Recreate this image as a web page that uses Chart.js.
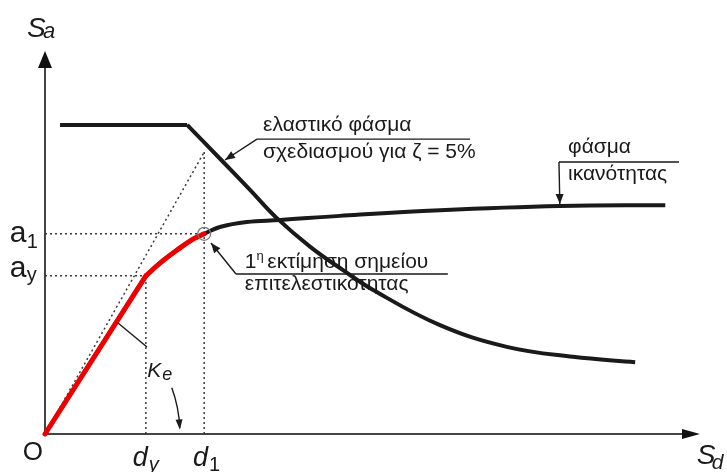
<!DOCTYPE html>
<html>
<head>
<meta charset="utf-8">
<script src="https://cdn.jsdelivr.net/npm/chart.js@4/dist/chart.umd.min.js"></script>
<style>
  html, body { margin: 0; padding: 0; background: #fff; }
  #wrap { width: 727px; height: 472px; }
</style>
</head>
<body>
<div id="wrap"><canvas id="c" width="727" height="472"></canvas></div>
<script>
// Spectral displacement Sd (x) and spectral acceleration Sa (y), schematic units 0..100

// Elastic design spectrum (ζ = 5%): constant-acceleration plateau, then descending branch
const elasticPlateauSd = [2.3, 21.7];
const elasticPlateauSa = [80.9, 80.9];
const elasticSd = [21.7, 27.2, 31.3, 35.4, 40.5, 45.5, 50.1, 60.3, 70.5, 80.6, 90.1];
const elasticSa = [80.9, 71.2, 63.9, 56.5, 49.0, 42.9, 37.7, 28.5, 22.8, 20.2, 18.8];

// Capacity spectrum: linear up to yield, then curved post-yield branch
const capacitySd = [0, 15.4, 17.6, 20.2, 22.6, 24.3, 26.7, 30.8, 35.9, 45.0, 60.3, 78.6, 94.7];
const capacitySa = [0, 41.4, 44.8, 48.2, 51.0, 52.4, 54.2, 55.5, 56.0, 57.1, 58.6, 59.7, 59.9];

// Characteristic points
const yieldSd = 15.4, yieldSa = 41.4;      // d_y, a_y
const trialSd = 24.3, trialSa = 52.4;      // d_1, a_1 (first performance-point estimate)
const initialStiffnessTopSa = 73.8;        // Sa of the initial-stiffness line at d_1

const pts = (xs, ys) => xs.map((x, i) => ({ x, y: ys[i] }));
const yieldIdx = capacitySd.indexOf(yieldSd);
const trialIdx = capacitySd.indexOf(trialSd);

const INK = '#1a1a1a';
const DOT = '#3a3a3a';
const FONT = '"Liberation Sans", Arial, sans-serif';

const dotted = (data) => ({
  data, showLine: true, borderColor: DOT, borderWidth: 1.5, borderDash: [2, 3],
  pointRadius: 0, tension: 0, clip: false, order: 5
});

const datasets = [
  // trial performance point marker
  { data: [{ x: trialSd, y: trialSa }], showLine: false, pointRadius: 6.5,
    pointBorderColor: '#777', pointBorderWidth: 1.2, pointBackgroundColor: 'rgba(0,0,0,0)',
    clip: false, order: -1 },
  // red: capacity curve up to the first estimate
  { data: pts(capacitySd.slice(0, yieldIdx + 1), capacitySa.slice(0, yieldIdx + 1)),
    showLine: true, borderColor: '#ee0000', borderWidth: 5, pointRadius: 0, tension: 0,
    borderCapStyle: 'round', clip: false, order: 0 },
  { data: pts(capacitySd.slice(yieldIdx, trialIdx + 1), capacitySa.slice(yieldIdx, trialIdx + 1)),
    showLine: true, borderColor: '#ee0000', borderWidth: 5, pointRadius: 0, tension: 0.4,
    borderCapStyle: 'round', clip: false, order: 0 },
  // black capacity curve
  { data: pts(capacitySd.slice(0, yieldIdx + 1), capacitySa.slice(0, yieldIdx + 1)),
    showLine: true, borderColor: INK, borderWidth: 4, pointRadius: 0, tension: 0, clip: false, order: 1 },
  { data: pts(capacitySd.slice(yieldIdx), capacitySa.slice(yieldIdx)),
    showLine: true, borderColor: INK, borderWidth: 4, pointRadius: 0, tension: 0.4,
    clip: false, order: 1 },
  // elastic spectrum
  { data: pts(elasticPlateauSd, elasticPlateauSa), showLine: true, borderColor: INK,
    borderWidth: 4, pointRadius: 0, tension: 0, borderJoinStyle: 'miter', clip: false, order: 1 },
  { data: pts(elasticSd, elasticSa), showLine: true, borderColor: INK, borderWidth: 4,
    pointRadius: 0, tension: 0.4, clip: false, order: 1 },
  // construction lines
  dotted([{ x: 0, y: 0 }, { x: trialSd, y: initialStiffnessTopSa }]),
  dotted([{ x: trialSd, y: 0 }, { x: trialSd, y: initialStiffnessTopSa }]),
  dotted([{ x: 0, y: trialSa }, { x: trialSd, y: trialSa }]),
  dotted([{ x: 0, y: yieldSa }, { x: yieldSd, y: yieldSa }]),
  dotted([{ x: yieldSd, y: 0 }, { x: yieldSd, y: yieldSa }])
];

function arrowHead(ctx, tx, ty, fromX, fromY, len, half) {
  const a = Math.atan2(ty - fromY, tx - fromX);
  ctx.beginPath();
  ctx.moveTo(tx, ty);
  ctx.lineTo(tx - len * Math.cos(a) + half * Math.sin(a), ty - len * Math.sin(a) - half * Math.cos(a));
  ctx.lineTo(tx - len * Math.cos(a) - half * Math.sin(a), ty - len * Math.sin(a) + half * Math.cos(a));
  ctx.closePath();
  ctx.fill();
}

// label runs: [text, size, italic, dx, dy] relative to an anchor in data units
const axisLabels = [
  { x: -2.75, y: 103.9, runs: [['S', 28, true, 0, 0], ['a', 22, true, 16, 1]] },
  { x: -5.4, y: 50.3, runs: [['a', 30, false, 0, 0], ['1', 20, false, 17, 6]] },
  { x: -5.4, y: 41.0, runs: [['a', 30, false, 0, 0], ['y', 20, false, 17, 4]] },
  { x: -3.4, y: -6.8, runs: [['O', 26, false, 0, 0]] },
  { x: 13.4, y: -8.4, runs: [['d', 27, true, 0, 0], ['y', 20, true, 16, 5]] },
  { x: 22.6, y: -8.4, runs: [['d', 27, true, 0, 0], ['1', 20, false, 16, 5]] },
  { x: 99.5, y: -7.9, runs: [['S', 28, true, 0, 0], ['d', 21, true, 15, 5]] },
  { x: 15.6, y: 14.9, runs: [['K', 21, true, 0, 0], ['e', 18, true, 15, 3]] }
];

const notes = [
  { lines: ['ελαστικό φάσμα', 'σχεδιασμού για ζ = 5%'], x: 33.3, y: [79.3, 72.25],
    rule: [32.37, 64.9, 77.2], leader: [[32.37, 77.2], [27.48, 71.73]] },
  { lines: ['φάσμα', 'ικανότητας'], x: 79.85, y: [73.56, 66.5],
    rule: [78.47, 96.8, 71.2], leader: [[78.47, 71.2], [78.6, 60.2]] },
  { lines: ['1η εκτίμηση σημείου', 'επιτελεστικότητας'], x: 30.5, y: [43.46, 37.7],
    rule: [29.16, 61.5, 41.9], leader: [[29.16, 41.9], [25.34, 50.0]], sup: true }
];

const NOTE_FONT = `21px ${FONT}`;

const diagramPlugin = {
  id: 'diagram',
  beforeDatasetsDraw(chart) {
    const { ctx, scales: { x, y } } = chart;
    const ox = x.getPixelForValue(0), oy = y.getPixelForValue(0);
    const xe = x.getPixelForValue(100), ye = y.getPixelForValue(100);
    ctx.save();
    ctx.strokeStyle = '#444';
    ctx.fillStyle = '#111';
    ctx.lineWidth = 2;
    ctx.beginPath();
    ctx.moveTo(ox, oy + 1); ctx.lineTo(ox, ye + 10);
    ctx.moveTo(ox - 1, oy); ctx.lineTo(xe - 10, oy);
    ctx.stroke();
    arrowHead(ctx, ox, ye - 1, ox, oy, 17, 7);
    arrowHead(ctx, xe, oy, ox, oy, 18, 5);
    ctx.restore();
  },
  afterDatasetsDraw(chart) {
    const { ctx, scales: { x, y } } = chart;
    const X = v => x.getPixelForValue(v), Y = v => y.getPixelForValue(v);
    ctx.save();
    ctx.fillStyle = INK;
    ctx.strokeStyle = INK;
    ctx.textBaseline = 'alphabetic';

    // axis and point symbols
    for (const lab of axisLabels) {
      const bx = X(lab.x), by = Y(lab.y);
      for (const [t, s, it, dx, dy] of lab.runs) {
        ctx.font = `${it ? 'italic ' : ''}${s}px ${FONT}`;
        ctx.fillText(t, bx + dx, by + dy);
      }
    }

    // callouts
    ctx.lineWidth = 1.4;
    for (const n of notes) {
      ctx.font = NOTE_FONT;
      n.lines.forEach((t, i) => {
        if (n.sup && i === 0) {
          ctx.fillText('1', X(n.x), Y(n.y[i]));
          const w1 = ctx.measureText('1').width;
          ctx.font = `13px ${FONT}`;
          ctx.fillText('η', X(n.x) + w1, Y(n.y[i]) - 8);
          ctx.font = NOTE_FONT;
          ctx.fillText(t.slice(2), X(n.x) + w1 + 5, Y(n.y[i]));
        } else {
          ctx.fillText(t, X(n.x), Y(n.y[i]));
        }
      });
      ctx.beginPath();
      ctx.moveTo(X(n.rule[0]), Y(n.rule[2]));
      ctx.lineTo(X(n.rule[1]), Y(n.rule[2]));
      const [p, q] = n.leader;
      ctx.moveTo(X(p[0]), Y(p[1]));
      ctx.lineTo(X(q[0]), Y(q[1]));
      ctx.stroke();
      arrowHead(ctx, X(q[0]), Y(q[1]), X(p[0]), Y(p[1]), 10, 4);
    }

    // initial-stiffness pointer and angle arc
    ctx.beginPath();
    ctx.moveTo(X(11.15), Y(29.06));
    ctx.lineTo(X(15.57), Y(22.77));
    ctx.stroke();
    const ox = X(0), oy = Y(0);
    const r = X(20.6) - ox;
    const a0 = -20 * Math.PI / 180, a1 = -2.5 * Math.PI / 180;
    ctx.beginPath();
    ctx.arc(ox, oy, r, a0, a1);
    ctx.stroke();
    const tx = ox + r * Math.cos(a1 + 0.01), ty = oy + r * Math.sin(a1 + 0.01);
    arrowHead(ctx, tx, ty, ox + r * Math.cos(a1 - 0.08), oy + r * Math.sin(a1 - 0.08), 10, 3.5);
    ctx.restore();
  }
};

new Chart(document.getElementById('c'), {
  type: 'scatter',
  data: { datasets },
  options: {
    responsive: false,
    animation: false,
    devicePixelRatio: 1,
    layout: { padding: { left: 45, right: 27, top: 52, bottom: 38 } },
    plugins: { legend: { display: false }, tooltip: { enabled: false } },
    scales: {
      x: { type: 'linear', min: 0, max: 100, display: false },
      y: { type: 'linear', min: 0, max: 100, display: false }
    }
  },
  plugins: [diagramPlugin]
});
</script>
</body>
</html>
